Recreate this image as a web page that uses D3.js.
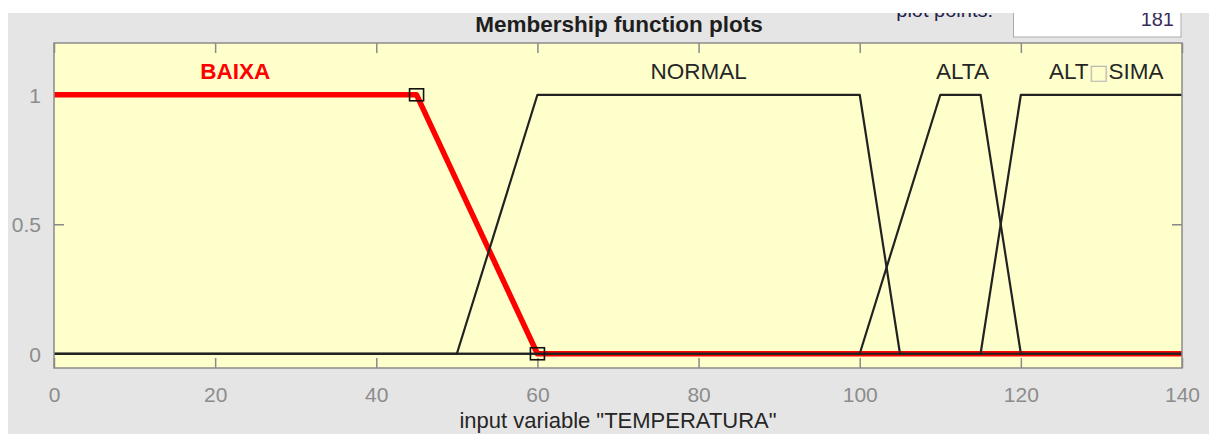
<!DOCTYPE html>
<html>
<head>
<meta charset="utf-8">
<script src="https://cdn.jsdelivr.net/npm/d3@7"></script>
<style>
  html, body { margin: 0; padding: 0; background: #ffffff; }
  svg { display: block; }
  text { font-family: "Liberation Sans", Arial, sans-serif; }
</style>
</head>
<body>
<svg id="chart" width="1209" height="434"></svg>
<script>
// Membership functions of the input variable (trapezoids: a, b, c, d)
const mfNames = ["BAIXA", "NORMAL", "ALTA", "ALT\u25A1SIMA"];
const mfA = [0, 50, 100, 115];
const mfB = [0, 60, 110, 120];
const mfC = [45, 100, 115, 140];
const mfD = [60, 105, 120, 140];
const mfLabelX = [22.5, 80, 112.75, 130.6];
const selectedMf = 0;

const xTicks = [0, 20, 40, 60, 80, 100, 120, 140];
const yTicks = [0, 0.5, 1];
const xDomain = [0, 140];
const yDomain = [-0.055, 1.2];
const plotPoints = "181";
const titleText = "Membership function plots";
const xLabelText = 'input variable "TEMPERATURA"';

const W = 1209, H = 434;
const plot = { left: 54, right: 1182, top: 43, bottom: 368 };

const svg = d3.select("#chart");

// window panel
svg.append("rect").attr("x", 8).attr("y", 13).attr("width", W - 8).attr("height", H - 13)
  .attr("fill", "#e5e5e5");

const x = d3.scaleLinear().domain(xDomain).range([plot.left, plot.right]);
const y = d3.scaleLinear().domain(yDomain).range([plot.bottom, plot.top]);

// trapezoidal membership
function trap(v, a, b, c, d) {
  if (v < a || v > d) return 0;
  if (v >= b && v <= c) return 1;
  if (v < b) return (v - a) / (b - a);
  return (d - v) / (d - c);
}
function mfVertices(i) {
  const xs = [xDomain[0], mfA[i], mfB[i], mfC[i], mfD[i], xDomain[1]]
    .filter(v => v >= xDomain[0] && v <= xDomain[1]);
  return xs.map(v => [v, trap(v, mfA[i], mfB[i], mfC[i], mfD[i])]);
}

// plot area
svg.append("rect")
  .attr("x", plot.left).attr("y", plot.top)
  .attr("width", plot.right - plot.left).attr("height", plot.bottom - plot.top)
  .attr("fill", "#ffffcc");

const tickColor = "#8a8a8a";
const labelColor = "#8c8c8c";

function styleAxis(g, showText) {
  g.select(".domain").remove();
  g.selectAll(".tick line").attr("stroke", tickColor).attr("stroke-width", 1.5);
  if (showText) {
    g.selectAll(".tick text").attr("fill", labelColor)
      .style("font-size", "21px").style("font-family", '"Liberation Sans", Arial, sans-serif');
  } else {
    g.selectAll(".tick text").remove();
  }
}

svg.append("g").attr("transform", `translate(0,${plot.bottom})`)
  .call(d3.axisBottom(x).tickValues(xTicks).tickFormat(d => String(d))
    .tickSizeInner(-10).tickSizeOuter(0).tickPadding(19))
  .call(g => styleAxis(g, true));
svg.append("g").attr("transform", `translate(0,${plot.top})`)
  .call(d3.axisTop(x).tickValues(xTicks).tickSizeInner(-10).tickSizeOuter(0))
  .call(g => styleAxis(g, false));
svg.append("g").attr("transform", `translate(${plot.left},0)`)
  .call(d3.axisLeft(y).tickValues(yTicks).tickFormat(d => String(d))
    .tickSizeInner(-10).tickSizeOuter(0).tickPadding(13))
  .call(g => styleAxis(g, true))
  .call(g => g.selectAll(".tick text").attr("dy", "0.36em"));
svg.append("g").attr("transform", `translate(${plot.right},0)`)
  .call(d3.axisRight(y).tickValues(yTicks).tickSizeInner(-10).tickSizeOuter(0))
  .call(g => styleAxis(g, false));

const line = d3.line().x(d => x(d[0])).y(d => y(d[1]));

// selected function (thick red) first, the rest on top in black
svg.append("path").datum(mfVertices(selectedMf))
  .attr("d", line).attr("fill", "none")
  .attr("stroke", "#ff0000").attr("stroke-width", 5.5).attr("stroke-linejoin", "round");

mfNames.forEach((name, i) => {
  if (i === selectedMf) return;
  svg.append("path").datum(mfVertices(i))
    .attr("d", line).attr("fill", "none")
    .attr("stroke", "#222").attr("stroke-width", 2.2).attr("stroke-linejoin", "round");
});

// parameter handles of the selected function
const handles = mfVertices(selectedMf).filter(p => p[0] > xDomain[0] && p[0] < xDomain[1]);
svg.selectAll("rect.handle").data(handles).join("rect")
  .attr("class", "handle")
  .attr("x", d => x(d[0]) - 7).attr("y", d => y(d[1]) - 6)
  .attr("width", 14).attr("height", 12)
  .attr("fill", "none").attr("stroke", "#111").attr("stroke-width", 1.6);

// frame
svg.append("rect")
  .attr("x", plot.left).attr("y", plot.top)
  .attr("width", plot.right - plot.left).attr("height", plot.bottom - plot.top)
  .attr("fill", "none").attr("stroke", tickColor).attr("stroke-width", 1.5);

// function names
mfNames.forEach((name, i) => {
  const t = svg.append("text")
    .attr("x", x(mfLabelX[i])).attr("y", 79)
    .attr("text-anchor", "middle")
    .style("font-size", "22.5px")
    .attr("fill", i === selectedMf ? "#ff0000" : "#262626")
    .style("font-weight", i === selectedMf ? "bold" : "normal");
  const parts = name.split("\u25A1");
  parts.forEach((p, k) => {
    if (k > 0) t.append("tspan").attr("fill", "#b8b8b8").style("font-family", '"DejaVu Sans", sans-serif')
      .style("font-size", "21px").text("\u25A1");
    t.append("tspan").text(p);
  });
});

// title
svg.append("text").attr("x", 619).attr("y", 31.5).attr("text-anchor", "middle")
  .style("font-size", "22.5px").style("font-weight", "bold").attr("fill", "#1e1e1e")
  .text(titleText);

// x axis label
svg.append("text").attr("x", 618).attr("y", 428).attr("text-anchor", "middle")
  .style("font-size", "22px").attr("fill", "#262626")
  .text(xLabelText);

// plot points control
svg.append("text").attr("x", 993).attr("y", 16.5).attr("text-anchor", "end")
  .style("font-size", "20px").attr("fill", "#22224a").text("plot points:");
svg.append("rect").attr("x", 1013.5).attr("y", -5).attr("width", 1167.5 - 1000).attr("height", 42)
  .attr("fill", "#ffffff").attr("stroke", "#adadad").attr("stroke-width", 1);
svg.append("text").attr("x", 1174).attr("y", 26).attr("text-anchor", "end")
  .style("font-size", "20px").attr("fill", "#3a2d5c").text(plotPoints);

// top strip outside the window
svg.append("rect").attr("x", 0).attr("y", 0).attr("width", W).attr("height", 13).attr("fill", "#ffffff");
</script>
</body>
</html>
